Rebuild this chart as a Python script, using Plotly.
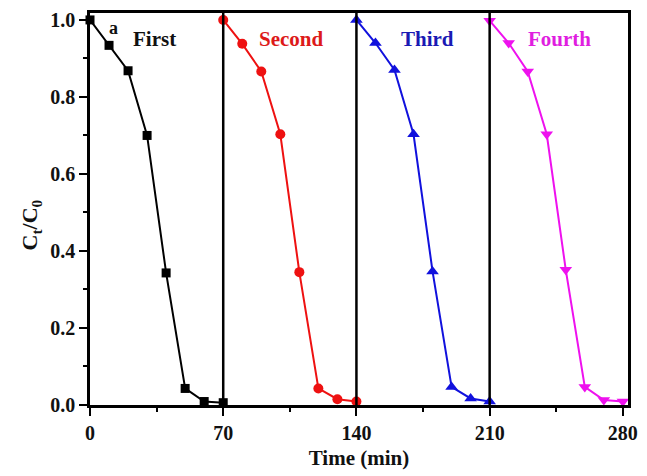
import plotly.graph_objects as go

time_first = [0, 10, 20, 30, 40, 50, 60, 70]
time_second = [70, 80, 90, 100, 110, 120, 130, 140]
time_third = [140, 150, 160, 170, 180, 190, 200, 210]
time_fourth = [210, 220, 230, 240, 250, 260, 270, 280]

first = [1.0, 0.934, 0.868, 0.700, 0.343, 0.043, 0.009, 0.006]
second = [1.0, 0.938, 0.866, 0.703, 0.345, 0.043, 0.015, 0.009]
third = [1.0, 0.940, 0.870, 0.703, 0.347, 0.047, 0.017, 0.009]
fourth = [0.998, 0.940, 0.866, 0.703, 0.351, 0.047, 0.013, 0.009]

cycle_bounds = [70, 140, 210]
x_ticks = [0, 70, 140, 210, 280]
y_ticks = [0.0, 0.2, 0.4, 0.6, 0.8, 1.0]

labels = ["First", "Second", "Third", "Fourth"]
label_x = [34, 106, 177.5, 246.5]

colors = ["#000000", "#ee1111", "#1111dd", "#ee11ee"]
text_colors = ["#111111", "#dd1a1a", "#1a1ab4", "#e01ee0"]
symbols = ["square", "circle", "triangle-up", "triangle-down"]
sizes = [9, 10, 11, 11]

FONT = "Liberation Serif"

fig = go.Figure()
series = [(time_first, first), (time_second, second), (time_third, third), (time_fourth, fourth)]
for i, (xs, ys) in enumerate(series):
    fig.add_trace(go.Scatter(
        x=xs, y=ys, mode="lines+markers",
        line=dict(color=colors[i], width=2),
        marker=dict(symbol=symbols[i], size=sizes[i], color=colors[i]),
        showlegend=False, cliponaxis=False,
    ))

for xb in cycle_bounds:
    fig.add_shape(type="line", xref="x", yref="paper", x0=xb, x1=xb, y0=0, y1=1,
                  line=dict(color="black", width=2.5))

for i, lab in enumerate(labels):
    fig.add_annotation(x=label_x[i], y=0.951, xref="x", yref="y", text=lab, showarrow=False,
                       font=dict(family=FONT, size=21, color=text_colors[i], weight="bold"))

fig.add_annotation(x=12.5, y=0.978, xref="x", yref="y", text="a", showarrow=False,
                   font=dict(family=FONT, size=18, color="#111111", weight="bold"))

fig.add_annotation(x=-0.11, y=0.46, xref="paper", yref="paper", text="C<sub>t</sub>/C<sub>0</sub>",
                   textangle=-90, showarrow=False, xanchor="center", yanchor="middle",
                   font=dict(family=FONT, size=22, color="#111111", weight="bold"))

axis_common = dict(
    showgrid=False, zeroline=False, showline=True, linecolor="black", linewidth=2.5,
    mirror=True, ticks="outside", ticklen=8, tickwidth=2, tickcolor="black",
    tickfont=dict(family=FONT, size=20, color="#111111", weight="bold"),
)

fig.update_xaxes(range=[0, 282.7], tickvals=x_ticks, ticktext=[str(v) for v in x_ticks],
                 minor=dict(ticks="outside", ticklen=4, tickwidth=2, tickcolor="black", dtick=35, tick0=0),
                 title=dict(text="Time (min)", font=dict(family=FONT, size=21, color="#111111", weight="bold"),
                            standoff=8),
                 **axis_common)
fig.update_yaxes(range=[0, 1.018], tickvals=y_ticks, ticktext=[f"{v:.1f}" for v in y_ticks],
                 minor=dict(ticks="outside", ticklen=4, tickwidth=2, tickcolor="black", dtick=0.1, tick0=0),
                 **axis_common)

fig.update_layout(
    width=647, height=476,
    margin=dict(l=90, r=15, t=9, b=71),
    paper_bgcolor="white", plot_bgcolor="white",
)

fig.write_html("out.html")
